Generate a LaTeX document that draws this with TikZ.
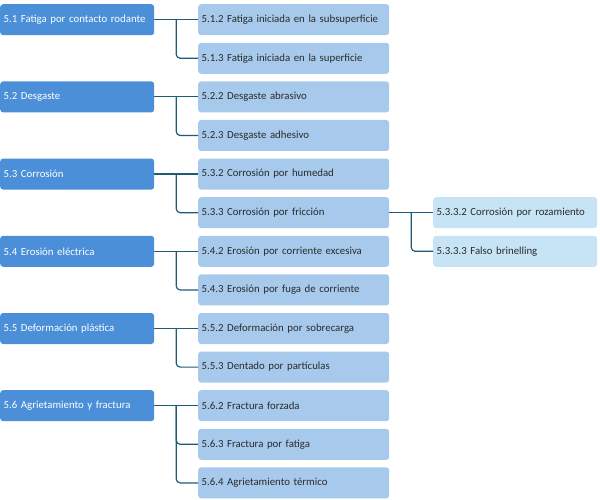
\documentclass[tikz,border=0pt]{standalone}
\usepackage{fontspec}
\setmainfont{Carlito}
\usepackage{tikz}
\usetikzlibrary{calc,positioning}
\definecolor{mainblue}{HTML}{4A8FD8}
\definecolor{subblue}{HTML}{A6C9EC}
\definecolor{leafblue}{HTML}{C6E4F6}
\definecolor{linkteal}{HTML}{1F5B78}
\definecolor{subtext}{HTML}{2B2B2B}
\tikzset{
	mainbox/.style={fill=mainblue, rounded corners=3pt, text=white, anchor=north west, minimum height=31pt, text width=147pt, inner xsep=3.5pt, align=left, font=\fontsize{10.8}{12}\selectfont},
	subbox/.style={fill=subblue, rounded corners=3pt, text=subtext, anchor=north west, minimum height=31pt, text width=184pt, inner xsep=3.5pt, align=left, font=\fontsize{10.8}{12}\selectfont},
	leafbox/.style={fill=leafblue, rounded corners=3pt, text=subtext, anchor=north west, minimum height=31pt, text width=157pt, inner xsep=3.5pt, align=left, font=\fontsize{10.8}{12}\selectfont},
	link/.style={draw=linkteal, line width=1.2pt, rounded corners=4pt}
}

\begin{document}
\begin{tikzpicture}[x=1pt, y=-1pt]
		%%%%% START %%%%%
		
		\useasboundingbox (0, 0) rectangle (600, 500);
		
		\node[mainbox] (f51) at (0, 4) {5.1 Fatiga por contacto rodante};
		\node[mainbox] (f52) at (0, 81.2) {5.2 Desgaste};
		\node[mainbox] (f53) at (0, 158.4) {5.3 Corrosión};
		\node[mainbox] (f54) at (0, 235.6) {5.4 Erosión eléctrica};
		\node[mainbox] (f55) at (0, 312.8) {5.5 Deformación plástica};
		\node[mainbox] (f56) at (0, 390) {5.6 Agrietamiento y fractura};
		
		\node[subbox] (f512) at (198, 4) {5.1.2 Fatiga iniciada en la subsuperficie};
		\node[subbox] (f513) at (198, 42.6) {5.1.3 Fatiga iniciada en la superficie};
		\node[subbox] (f522) at (198, 81.2) {5.2.2 Desgaste abrasivo};
		\node[subbox] (f523) at (198, 119.8) {5.2.3 Desgaste adhesivo};
		\node[subbox] (f532) at (198, 158.4) {5.3.2 Corrosión por humedad};
		\node[subbox] (f533) at (198, 197) {5.3.3 Corrosión por fricción};
		\node[subbox] (f542) at (198, 235.6) {5.4.2 Erosión por corriente excesiva};
		\node[subbox] (f543) at (198, 274.2) {5.4.3 Erosión por fuga de corriente};
		\node[subbox] (f552) at (198, 312.8) {5.5.2 Deformación por sobrecarga};
		\node[subbox] (f553) at (198, 351.4) {5.5.3 Dentado por partículas};
		\node[subbox] (f562) at (198, 390) {5.6.2 Fractura forzada};
		\node[subbox] (f563) at (198, 428.6) {5.6.3 Fractura por fatiga};
		\node[subbox] (f564) at (198, 467.2) {5.6.4 Agrietamiento térmico};
		
		\node[leafbox] (f5332) at (433, 197) {5.3.3.2 Corrosión por rozamiento};
		\node[leafbox] (f5333) at (433, 235.6) {5.3.3.3 Falso brinelling};
		
		% ramas
		\draw[link] (f51.east) -- (f512.west);
		\draw[link] ($(f51.east)!0.5!(f512.west)$) |- (f513.west);
		
		\draw[link] (f52.east) -- (f522.west);
		\draw[link] ($(f52.east)!0.5!(f522.west)$) |- (f523.west);
		
		\draw[link] (f53.east) -- (f532.west);
		\draw[link] ($(f53.east)!0.5!(f532.west)$) |- (f533.west);
		
		\draw[link] (f54.east) -- (f542.west);
		\draw[link] ($(f54.east)!0.5!(f542.west)$) |- (f543.west);
		
		\draw[link] (f55.east) -- (f552.west);
		\draw[link] ($(f55.east)!0.5!(f552.west)$) |- (f553.west);
		
		\draw[link] (f56.east) -- (f562.west);
		\draw[link] ($(f56.east)!0.5!(f562.west)$) |- (f563.west);
		\draw[link] ($(f56.east)!0.5!(f562.west)$) |- (f564.west);
		
		\draw[link] (f533.east) -- (f5332.west);
		\draw[link] ($(f533.east)!0.5!(f5332.west)$) |- (f5333.west);
		
		%%%%% END %%%%%
	\end{tikzpicture}
\end{document}
